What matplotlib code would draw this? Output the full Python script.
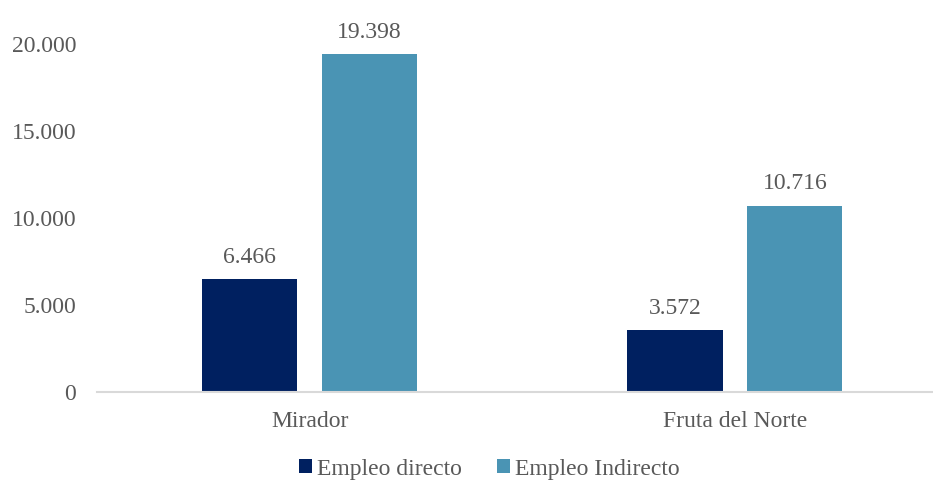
import matplotlib
matplotlib.use("Agg")
import matplotlib.pyplot as plt
from matplotlib.ticker import FuncFormatter
import numpy as np

categories = ["Mirador", "Fruta del Norte"]
series_names = ["Empleo directo", "Empleo Indirecto"]
directo = [6466, 3572]
indirecto = [19398, 10716]
yticks = [0, 5000, 10000, 15000, 20000]

plt.rcParams['font.family'] = ['Liberation Serif', 'DejaVu Serif']
TXT = '#595959'
C1 = '#002060'
C2 = '#4A94B4'
FS = 17

fig = plt.figure(figsize=(9.33, 4.83), dpi=100)
ax = fig.add_axes([97/933, 91/483, 836/933, 348/483])

x = np.arange(len(categories))
w = 0.224
off = 0.141
b1 = ax.bar(x - off, directo, w, color=C1, label=series_names[0])
b2 = ax.bar(x + off, indirecto, w, color=C2, label=series_names[1])

def fmt(v):
    return f"{int(round(v)):,}".replace(",", ".")

for bars, vals in ((b1, directo), (b2, indirecto)):
    for r, v in zip(bars, vals):
        ax.annotate(fmt(v), (r.get_x() + r.get_width()/2, v), xytext=(0, 8),
                    textcoords='offset points', ha='center', va='bottom',
                    fontsize=FS, color=TXT, annotation_clip=False)

ax.set_xlim(-0.5, 1.466)
ax.set_ylim(0, 20000)
ax.set_yticks(yticks)
ax.yaxis.set_major_formatter(FuncFormatter(lambda v, p: fmt(v)))
ax.set_xticks(x)
ax.set_xticklabels(categories)
ax.tick_params(axis='both', length=0, labelsize=FS, colors=TXT)
ax.tick_params(axis='y', pad=15)
ax.tick_params(axis='x', pad=14)
for s in ['top', 'right', 'left']:
    ax.spines[s].set_visible(False)
ax.spines['bottom'].set_color('#D9D9D9')
ax.spines['bottom'].set_linewidth(1.5)

leg = fig.legend(handles=[b1, b2], labels=series_names, loc='center',
                 bbox_to_anchor=(489/933, 1 - 469/483), ncol=2, frameon=False,
                 fontsize=FS, handlelength=0.55, handleheight=0.55, handletextpad=0.2,
                 columnspacing=1.5, labelcolor=TXT)

fig.savefig("out.png", dpi=100)
